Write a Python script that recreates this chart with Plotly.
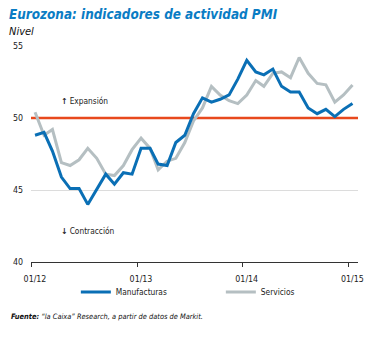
import plotly.graph_objects as go
import pandas as pd

months = pd.date_range("2012-01-01", "2015-01-01", freq="MS") + pd.Timedelta(days=14)
manufacturas = [48.8, 49.0, 47.7, 45.9, 45.1, 45.1, 44.0, 45.1, 46.1, 45.4, 46.2, 46.1,
                47.9, 47.9, 46.8, 46.7, 48.3, 48.8, 50.3, 51.4, 51.1, 51.3, 51.6, 52.7,
                54.0, 53.2, 53.0, 53.4, 52.2, 51.8, 51.8, 50.7, 50.3, 50.6, 50.1, 50.6,
                51.0]
servicios = [50.4, 48.8, 49.2, 46.9, 46.7, 47.1, 47.9, 47.2, 46.1, 46.0, 46.7, 47.8,
             48.6, 47.9, 46.4, 47.0, 47.2, 48.3, 49.8, 50.7, 52.2, 51.6, 51.2, 51.0,
             51.6, 52.6, 52.2, 53.1, 53.2, 52.8, 54.2, 53.1, 52.4, 52.3, 51.1, 51.6,
             52.3]
tick_dates = ["2012-01-01", "2013-01-01", "2014-01-01", "2015-01-01"]
tick_labels = ["01/12", "01/13", "01/14", "01/15"]
y_ticks = [40, 45, 50, 55]
threshold = 50

FONT = "Liberation Sans Narrow, DejaVu Sans Condensed, sans-serif"
BLUE = "#0a6fb5"
GRAY = "#b5bfc2"
ORANGE = "#e8491d"

fig = go.Figure()
fig.add_trace(go.Scatter(x=[pd.Timestamp("2012-01-01"), pd.Timestamp("2015-02-03")],
                         y=[threshold, threshold], mode="lines",
                         line=dict(color=ORANGE, width=2.5), showlegend=False,
                         hoverinfo="skip"))
fig.add_trace(go.Scatter(x=months, y=servicios, mode="lines", name="Servicios",
                         line=dict(color=GRAY, width=3)))
fig.add_trace(go.Scatter(x=months, y=manufacturas, mode="lines", name="Manufacturas",
                         line=dict(color=BLUE, width=3)))

fig.update_layout(
    width=370, height=338,
    margin=dict(l=31, r=12, t=46, b=76, autoexpand=False),
    paper_bgcolor="white", plot_bgcolor="white",
    font=dict(family=FONT, size=8, color="#222"),
    showlegend=True,
    legend=dict(orientation="h", xref="container", yref="container",
                x=0.205, y=0.136, xanchor="left", yanchor="middle",
                traceorder="reversed",
                entrywidth=100, entrywidthmode="pixels",
                font=dict(family=FONT, size=8.3, color="#222"),
                itemwidth=30, bgcolor="rgba(0,0,0,0)"),
    xaxis=dict(type="date", range=["2012-01-01", "2015-02-03"],
               tickvals=tick_dates, ticktext=tick_labels,
               showgrid=False, showline=True, linecolor="#333", linewidth=1,
               ticks="outside", ticklen=4, tickcolor="#333",
               ticklabelshift=4, ticklabelstandoff=4,
               tickfont=dict(family=FONT, size=8.8, color="#222"), zeroline=False),
    yaxis=dict(range=[40, 55], tickvals=y_ticks, showgrid=True,
               gridcolor="#dcdcdc", gridwidth=1, zeroline=False, showline=False,
               ticks="", tickfont=dict(family=FONT, size=8.8, color="#222"),
               ticklabelstandoff=7),
    annotations=[
        dict(text="<b><i>Eurozona: indicadores de actividad PMI</i></b>",
             xref="paper", yref="paper", x=-0.072, y=1.148, xanchor="left",
             yanchor="middle", showarrow=False,
             font=dict(family=FONT, size=13.4, color="#0a7cc4")),
        dict(text="<i>Nivel</i>", xref="paper", yref="paper", x=-0.072, y=1.069,
             xanchor="left", yanchor="middle", showarrow=False,
             font=dict(family=FONT, size=11, color="#111")),
        dict(text="<b>↑</b> Expansión", xref="paper", yref="y", x=0.086, y=51.2,
             xanchor="left", yanchor="middle", showarrow=False,
             font=dict(family=FONT, size=8.3, color="#222")),
        dict(text="<b>↓</b> Contracción", xref="paper", yref="y", x=0.086, y=42.15,
             xanchor="left", yanchor="middle", showarrow=False,
             font=dict(family=FONT, size=8.3, color="#222")),
        dict(text="<b><i>Fuente:</i></b><i> “la Caixa” Research, a partir de datos de Markit.</i>",
             xref="paper", yref="paper", x=-0.066, y=-0.25, xanchor="left",
             yanchor="middle", showarrow=False,
             font=dict(family=FONT, size=7.4, color="#111")),
    ],
)

fig.write_html("out.html")
